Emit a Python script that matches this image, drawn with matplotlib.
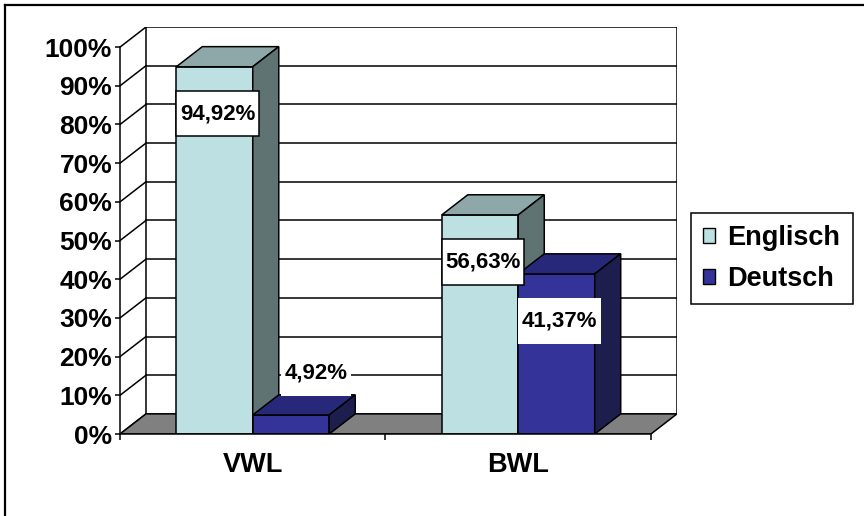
import matplotlib.pyplot as plt
from matplotlib.patches import Polygon, Patch
from matplotlib.path import Path
from matplotlib.lines import Line2D

plt.rcParams['font.family'] = ['Liberation Sans', 'DejaVu Sans']
plt.rcParams['font.weight'] = 'bold'

# Daten
categories = ['VWL', 'BWL']
series = ['Englisch', 'Deutsch']
englisch = [94.92, 56.63]
deutsch = [4.92, 41.37]
yticks = [0, 10, 20, 30, 40, 50, 60, 70, 80, 90, 100]

# Farben: Vorderseite, Oberseite, Seitenfläche
colors = {
    'Englisch': ('#bde0e3', '#8ea7a9', '#5f7373'),
    'Deutsch': ('#333399', '#28287a', '#1d1d4e'),
}

# Tiefe des 3D-Effekts (x in Kategorien, y in Prozent)
DX = 0.098
DY = 5.2
BAR_W = 0.288
LW = 1.1

fig = plt.figure(figsize=(8.64, 5.16), dpi=100)
ax = fig.add_axes([120 / 864, 82 / 516, 557 / 864, 407 / 516])
ax.set_xlim(0, 2 + DX)
ax.set_ylim(0, 100 + DY)

# Rückwand mit Gitterlinien und linke Seitenwand
for t in yticks:
    ax.plot([DX, 2 + DX], [t + DY, t + DY], color='black', lw=LW, zorder=1)
    ax.plot([0, DX], [t, t + DY], color='black', lw=LW, zorder=1)
ax.plot([DX, DX], [DY, 100 + DY], color='black', lw=LW, zorder=1)
ax.plot([2 + DX, 2 + DX], [DY, 100 + DY], color='black', lw=LW, zorder=1)

# Boden
ax.add_patch(Polygon([(0, 0), (2, 0), (2 + DX, DY), (DX, DY)], closed=True,
                     facecolor='#808080', edgecolor='black', lw=LW, zorder=2))


def label_box(x0, y0, width, height, mutation_size):
    px, py = 0.16 * mutation_size, 0.55 * mutation_size
    x0, y0 = x0 - px, y0 - py
    x1, y1 = x0 + width + 2 * px, y0 + height + 2 * py
    return Path([(x0, y0), (x1, y0), (x1, y1), (x0, y1), (x0, y0)], closed=True)


def bar3d(x0, h, name, z):
    front, top, side = colors[name]
    ax.bar(x0, h, width=BAR_W, align='edge', color=front, edgecolor='black',
           lw=LW, zorder=z)
    ax.add_patch(Polygon([(x0, h), (x0 + BAR_W, h), (x0 + BAR_W + DX, h + DY),
                          (x0 + DX, h + DY)], closed=True, facecolor=top,
                         edgecolor='black', lw=LW, zorder=z))
    ax.add_patch(Polygon([(x0 + BAR_W, 0), (x0 + BAR_W + DX, DY),
                          (x0 + BAR_W + DX, h + DY), (x0 + BAR_W, h)], closed=True,
                         facecolor=side, edgecolor='black', lw=LW, zorder=z))
    label = f'{h:.2f}%'.replace('.', ',')
    cx = x0 + BAR_W / 2
    if h > 20:
        off = (3, -47)
    else:
        off = (25, 42)
    ax.annotate(label, xy=(cx, h), xytext=off, textcoords='offset pixels',
                ha='center', va='center', fontsize=16, zorder=20,
                bbox=dict(boxstyle=label_box, facecolor='white',
                          edgecolor='black' if name == 'Englisch' else 'none',
                          lw=LW))


z = 3
for i in range(len(categories)):
    bar3d(i + 0.5 - BAR_W, englisch[i], 'Englisch', z)
    bar3d(i + 0.5, deutsch[i], 'Deutsch', z + 1)
    z += 2

# Achsen
for s in ['top', 'right']:
    ax.spines[s].set_visible(False)
ax.spines['left'].set_bounds(0, 100)
ax.spines['bottom'].set_bounds(0, 2)
ax.spines['left'].set_linewidth(LW)
ax.spines['bottom'].set_linewidth(LW)
ax.spines['left'].set_zorder(15)
ax.spines['bottom'].set_zorder(15)
ax.set_yticks(yticks)
ax.set_yticklabels([f'{t}%' for t in yticks])
ax.tick_params(axis='y', length=3.6, width=LW, pad=2, labelsize=19)
ax.set_xticks([0, 1, 2])
ax.set_xticklabels([])
ax.set_xticks([0.5, 1.5], minor=True)
ax.set_xticklabels(categories, minor=True)
ax.tick_params(axis='x', which='major', length=4.5, width=LW)
ax.tick_params(axis='x', which='minor', length=0, pad=13, labelsize=19.5)
ax.set_facecolor('none')

# Legende
handles = [Patch(facecolor=colors[n][0], edgecolor='black', lw=1) for n in series]
leg = fig.legend(handles, series, loc='upper left',
                 bbox_to_anchor=(691 / 864, 1 - 213 / 516),
                 bbox_transform=fig.transFigure, fontsize=19.5, frameon=True,
                 fancybox=False, framealpha=1, borderaxespad=0, borderpad=0.45,
                 handlelength=0.45, handleheight=0.45, handletextpad=0.45,
                 labelspacing=0.55)
leg.get_frame().set_edgecolor('black')
leg.get_frame().set_linewidth(LW)

# Rahmen
fig.add_artist(Line2D([5 / 864, 5 / 864], [0, 1 - 5 / 516], color='black', lw=1.6))
fig.add_artist(Line2D([5 / 864, 1], [1 - 5 / 516, 1 - 5 / 516], color='black', lw=1.6))

fig.savefig('out.png', dpi=100)
